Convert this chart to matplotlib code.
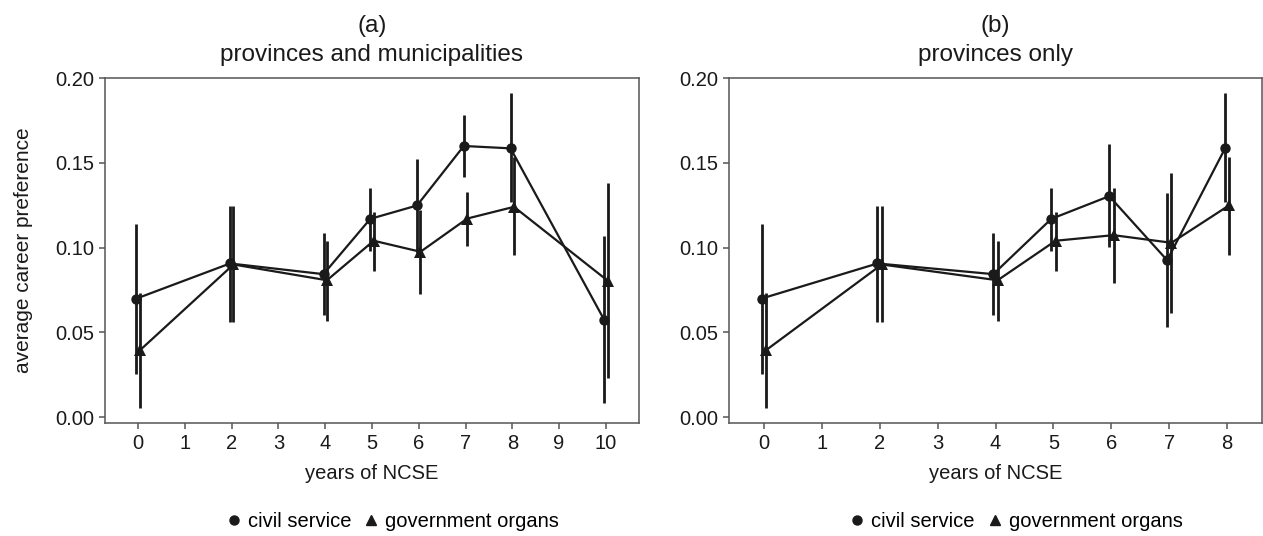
import matplotlib
matplotlib.use("Agg")
import matplotlib.pyplot as plt
from matplotlib.lines import Line2D
import numpy as np

plt.rcParams['font.family'] = ['Liberation Sans', 'DejaVu Sans']

# Panel (a): provinces and municipalities
years_a = [0, 2, 4, 5, 6, 7, 8, 10]
civil_a = [0.0699, 0.0906, 0.0843, 0.1169, 0.1248, 0.1599, 0.1585, 0.0575]
civil_a_lo = [0.0256, 0.0561, 0.0601, 0.0981, 0.0968, 0.1417, 0.1270, 0.0083]
civil_a_hi = [0.1136, 0.1244, 0.1083, 0.1353, 0.1524, 0.1782, 0.1910, 0.1067]
gov_a = [0.0394, 0.0900, 0.0807, 0.1040, 0.0975, 0.1171, 0.1240, 0.0805]
gov_a_lo = [0.0055, 0.0561, 0.0567, 0.0862, 0.0725, 0.1008, 0.0955, 0.0230]
gov_a_hi = [0.0733, 0.1244, 0.1038, 0.1211, 0.1221, 0.1329, 0.1536, 0.1378]

# Panel (b): provinces only
years_b = [0, 2, 4, 5, 6, 7, 8]
civil_b = [0.0699, 0.0906, 0.0843, 0.1169, 0.1303, 0.0925, 0.1585]
civil_b_lo = [0.0256, 0.0561, 0.0601, 0.0981, 0.1004, 0.0532, 0.1270]
civil_b_hi = [0.1136, 0.1244, 0.1083, 0.1353, 0.1609, 0.1323, 0.1910]
gov_b = [0.0394, 0.0900, 0.0807, 0.1040, 0.1073, 0.1028, 0.1250]
gov_b_lo = [0.0055, 0.0561, 0.0567, 0.0862, 0.0792, 0.0611, 0.0955]
gov_b_hi = [0.0733, 0.1244, 0.1038, 0.1211, 0.1349, 0.1441, 0.1532]

yticks = [0.00, 0.05, 0.10, 0.15, 0.20]
ytick_labels = ["0.00", "0.05", "0.10", "0.15", "0.20"]
titles = ["(a)\nprovinces and municipalities", "(b)\nprovinces only"]
xlabel = "years of NCSE"
ylabel = "average career preference"
series_names = ["civil service", "government organs"]

W, H = 1263, 536
fig = plt.figure(figsize=(W / 100, H / 100), dpi=100)

ink = "#1a1a1a"
spine_c = "#555555"
dodge = 0.037
fs = 14.5


def panel(rect, years, c, clo, chi, g, glo, ghi, xmax, title):
    ax = fig.add_axes(rect)
    xs = np.array(years, dtype=float)
    for x, m, lo, hi, marker, ms in [
        (xs - dodge, c, clo, chi, "o", 7.5),
        (xs + dodge, g, glo, ghi, "^", 8.5),
    ]:
        ax.vlines(x, lo, hi, color=ink, lw=2.0, zorder=2)
        ax.plot(x, m, color=ink, lw=1.6, marker=marker, ms=ms,
                markeredgewidth=0, zorder=3)
    pad = 0.71 if xmax == 10 else 0.6
    ax.set_xlim(-pad, xmax + pad)
    ax.set_ylim(-0.0035, 0.2)
    ax.set_xticks(range(0, xmax + 1))
    ax.set_xticklabels([str(i) for i in range(0, xmax + 1)])
    ax.set_yticks(yticks)
    ax.set_yticklabels(ytick_labels)
    for s in ax.spines.values():
        s.set_color(spine_c)
        s.set_linewidth(1.1)
    ax.tick_params(axis="both", direction="out", length=4, width=1.1,
                   color=spine_c, labelsize=fs, labelcolor=ink, pad=4)
    ax.set_xlabel(xlabel, fontsize=fs, color=ink, labelpad=8)
    ax.set_title(title, fontsize=17.5, color=ink, pad=12, linespacing=1.45)
    handles = [
        Line2D([], [], ls="none", marker="o", ms=6.5, color=ink, label=series_names[0]),
        Line2D([], [], ls="none", marker="^", ms=7.5, color=ink, label=series_names[1]),
    ]
    ax.legend(handles=handles, loc="center", bbox_to_anchor=(0.54, -0.285),
              ncol=2, frameon=False, fontsize=fs, handlelength=0.6,
              handletextpad=0.4, columnspacing=0.7)
    return ax


ax1 = panel([105 / W, 113 / H, 534 / W, 345 / H], years_a, civil_a, civil_a_lo,
            civil_a_hi, gov_a, gov_a_lo, gov_a_hi, 10, titles[0])
ax1.set_ylabel(ylabel, fontsize=15, color=ink, labelpad=16)
ax2 = panel([729 / W, 113 / H, 533 / W, 345 / H], years_b, civil_b, civil_b_lo,
            civil_b_hi, gov_b, gov_b_lo, gov_b_hi, 8, titles[1])

fig.savefig("out.png", dpi=100)
